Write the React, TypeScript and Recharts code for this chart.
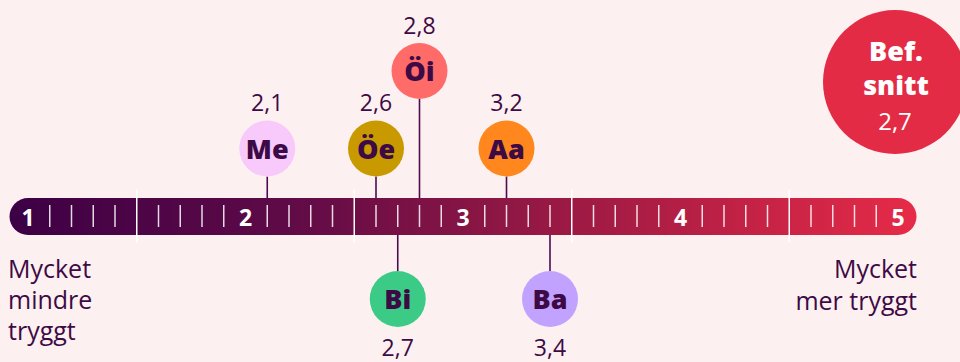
import React from 'react';
import { ScatterChart, Scatter, XAxis, YAxis, ReferenceArea } from 'recharts';

// ---- data ----
const scaleDomain = [1, 5];
const majorTicks = [1, 2, 3, 4, 5];
const majorTickLabels = ['1', '2', '3', '4', '5'];
const sectionDividers = [1.5, 2.5, 3.5, 4.5];
const minorTicks = [
  1.1, 1.2, 1.3, 1.4, 1.6, 1.7, 1.8, 1.9,
  2.1, 2.2, 2.3, 2.4, 2.6, 2.7, 2.8, 2.9,
  3.1, 3.2, 3.3, 3.4, 3.6, 3.7, 3.8, 3.9,
  4.1, 4.2, 4.3, 4.4, 4.6, 4.7, 4.8, 4.9,
];

const groupNames = ['Me', 'Öe', 'Öi', 'Aa', 'Bi', 'Ba'];
const groupValues = [2.1, 2.6, 2.8, 3.2, 2.7, 3.4];
const groupValueLabels = ['2,1', '2,6', '2,8', '3,2', '2,7', '3,4'];
const groupPlacement = ['above', 'above', 'aboveHigh', 'above', 'below', 'below'];
const groupColors = ['#F8C9FB', '#C99A00', '#FF6B68', '#FF871E', '#3BCB86', '#C2A2FF'];

const averageTitle = ['Bef.', 'snitt'];
const averageValueLabel = '2,7';
const leftEndLabel = ['Mycket', 'mindre', 'tryggt'];
const rightEndLabel = ['Mycket', 'mer tryggt'];

// ---- styles ----
const BG = '#FDF0F0';
const INK = '#3D0A45';
const FONT = '"Open Sans", sans-serif';
const BAR_HALF = 18.5;
const R = 28;

const markerData = groupNames.map((name, i) => ({
  name,
  value: groupValues[i],
  label: groupValueLabels[i],
  placement: groupPlacement[i],
  color: groupColors[i],
}));
const majorData = majorTicks.map((v, i) => ({ value: v, label: majorTickLabels[i] }));
const minorData = minorTicks.map((v) => ({ value: v }));
const dividerData = sectionDividers.map((v) => ({ value: v }));

const BarShape = (props: any) => {
  const { x, width } = props;
  const cy = props.y + props.height / 2;
  return (
    <g>
      <defs>
        <linearGradient id="scaleGrad" x1="0" y1="0" x2="1" y2="0">
          <stop offset="0%" stopColor="#3C0044" />
          <stop offset="30%" stopColor="#5E0A47" />
          <stop offset="55%" stopColor="#8F1744" />
          <stop offset="80%" stopColor="#C02145" />
          <stop offset="100%" stopColor="#E62B48" />
        </linearGradient>
      </defs>
      <rect
        x={x - BAR_HALF}
        y={cy - BAR_HALF}
        width={width + 2 * BAR_HALF}
        height={2 * BAR_HALF}
        rx={BAR_HALF}
        ry={BAR_HALF}
        fill="url(#scaleGrad)"
      />
    </g>
  );
};

const MinorTickShape = (props: any) => {
  const { cx, cy } = props;
  return <line x1={cx} x2={cx} y1={cy - 11.5} y2={cy + 10.5} stroke="#FFFFFF" strokeOpacity={0.85} strokeWidth={1.5} />;
};

const DividerShape = (props: any) => {
  const { cx, cy } = props;
  return <line x1={cx} x2={cx} y1={cy - 27} y2={cy + 26} stroke="#FFFFFF" strokeWidth={1.5} />;
};

const MajorShape = (props: any) => {
  const { cx, cy, payload } = props;
  return (
    <text x={cx} y={cy + 9} textAnchor="middle" fill="#FFFFFF" fontFamily={FONT} fontWeight={700} fontSize={23}>
      {payload.label}
    </text>
  );
};

const MarkerShape = (props: any) => {
  const { cx, cy, payload } = props;
  const below = payload.placement === 'below';
  const circleY = below ? cy + 82.5 : cy - (payload.placement === 'aboveHigh' ? 145.5 : 68);
  const lineY1 = below ? cy + BAR_HALF : circleY + R;
  const lineY2 = below ? circleY - R : cy - BAR_HALF;
  const labelY = below ? circleY + 57 : circleY - 37.5;
  return (
    <g>
      <line x1={cx} x2={cx} y1={lineY1} y2={lineY2} stroke="#4A0E50" strokeWidth={1.6} />
      <circle cx={cx} cy={circleY} r={R} fill={payload.color} />
      <text x={cx} y={circleY + 10} textAnchor="middle" fill={INK} fontFamily={FONT} fontWeight={800} fontSize={27}>
        {payload.name}
      </text>
      <text x={cx} y={labelY} textAnchor="middle" fill={INK} fontFamily={FONT} fontSize={23}>
        {payload.label}
      </text>
    </g>
  );
};

export default function App() {
  return (
    <div style={{ position: 'absolute', left: 0, top: 0, width: 960, height: 362, background: BG, overflow: 'hidden' }}>
      <ScatterChart width={960} height={362} margin={{ top: 71, right: 62, bottom: 0, left: 28 }}>
        <XAxis type="number" dataKey="value" domain={scaleDomain} hide />
        <YAxis type="number" dataKey={() => 0} domain={[-1, 1]} hide />
        <ReferenceArea x1={1} x2={5} y1={-0.12} y2={0.12} shape={BarShape} ifOverflow="visible" />
        <Scatter data={dividerData} shape={DividerShape} isAnimationActive={false} />
        <Scatter data={minorData} shape={MinorTickShape} isAnimationActive={false} />
        <Scatter data={majorData} shape={MajorShape} isAnimationActive={false} />
        <Scatter data={markerData} shape={MarkerShape} isAnimationActive={false} />
      </ScatterChart>
      <svg width={960} height={362} style={{ position: 'absolute', left: 0, top: 0, pointerEvents: 'none' }}>
        <circle cx={895} cy={82} r={72} fill="#E32B45" />
        <text x={896} y={61} textAnchor="middle" fill="#FFFFFF" fontFamily={FONT} fontWeight={800} fontSize={27}>
          {averageTitle[0]}
        </text>
        <text x={896} y={95} textAnchor="middle" fill="#FFFFFF" fontFamily={FONT} fontWeight={800} fontSize={27}>
          {averageTitle[1]}
        </text>
        <text x={895} y={130} textAnchor="middle" fill="#FFFFFF" fontFamily={FONT} fontSize={24}>
          {averageValueLabel}
        </text>
        {leftEndLabel.map((t, i) => (
          <text key={t} x={8} y={278 + i * 31} fill={INK} fontFamily={FONT} fontSize={25}>
            {t}
          </text>
        ))}
        {rightEndLabel.map((t, i) => (
          <text key={t} x={917} y={278 + i * 32} textAnchor="end" fill={INK} fontFamily={FONT} fontSize={25}>
            {t}
          </text>
        ))}
      </svg>
    </div>
  );
}
